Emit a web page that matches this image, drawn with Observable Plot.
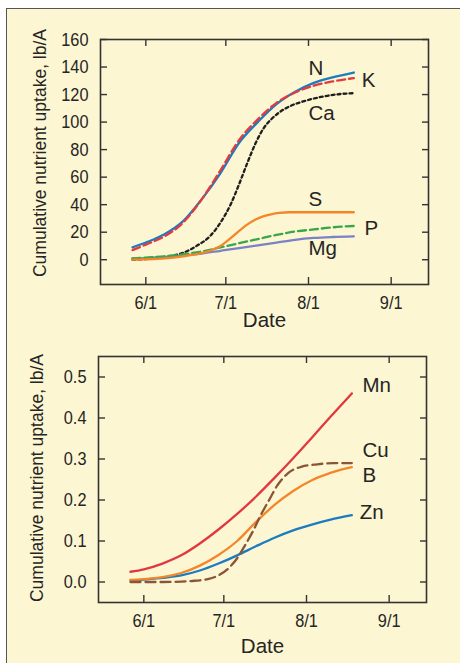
<!DOCTYPE html>
<html><head><meta charset="utf-8">
<script src="https://cdn.jsdelivr.net/npm/d3@7"></script>
<script src="https://cdn.jsdelivr.net/npm/@observablehq/plot@0.6"></script>
<style>
html,body{margin:0;padding:0;background:#fff;}
#page{position:relative;width:460px;height:663px;overflow:hidden;background:#fff;}
#panel{position:absolute;left:6px;top:8px;right:0;bottom:0;background:#fdf6d2;border-left:1.5px solid #555;border-top:1.5px solid #555;}
.chart{position:absolute;left:0;}
</style></head><body>
<div id="page"><div id="panel"></div><div id="c1" class="chart" style="top:0px"></div><div id="c2" class="chart" style="top:330px"></div></div>
<script>
// ---------- data ----------
const datesWeekly = ["05-27","06-01","06-08","06-15","06-22","06-29","07-06","07-13","07-20","07-27","08-03","08-10","08-18"];
const datesFine   = ["05-27","06-01","06-08","06-15","06-20","06-25","06-29","07-03","07-06","07-09","07-12","07-15","07-18","07-21","07-25","07-30","08-05","08-11","08-18"];

// Top chart (lb/A)
const N  = [9, 12.5, 18.5, 28, 44, 63, 85, 100, 113, 122, 128.5, 132.5, 136];
const K  = [7, 11, 17, 27, 44, 65, 87, 102, 114, 121.5, 126.5, 129.5, 132];
const Ca = [0, 0.5, 2, 5, 10, 17, 27, 41, 55, 70, 84, 95, 102, 107, 111.5, 115, 118, 120, 121];
const S  = [0, 0.3, 1, 2.5, 4, 6.5, 10, 16, 21, 25.5, 29, 31.5, 33, 34, 34.5, 34.5, 34.5, 34.5, 34.5];
const P  = [1, 1.5, 2.5, 4, 6, 9, 12, 15, 18, 20.5, 22, 23.5, 24.5];
const Mg = [1, 1.2, 2, 3, 4.5, 6.5, 8.5, 10.5, 12.5, 14.5, 15.8, 16.5, 17];

// Bottom chart (lb/A)
const Mn = [0.025, 0.031, 0.045, 0.065, 0.094, 0.128, 0.166, 0.208, 0.254, 0.302, 0.352, 0.403, 0.46];
const Cu = [0, 0, 0, 0.001, 0.003, 0.007, 0.016, 0.035, 0.058, 0.09, 0.125, 0.165, 0.2, 0.235, 0.265, 0.281, 0.287, 0.29, 0.29];
const B  = [0.005, 0.007, 0.012, 0.022, 0.04, 0.066, 0.1, 0.146, 0.188, 0.222, 0.248, 0.266, 0.28];
const Zn = [0.004, 0.006, 0.01, 0.016, 0.028, 0.045, 0.065, 0.087, 0.108, 0.126, 0.14, 0.152, 0.163];

// Labels
const topLabelNames  = ["N", "K", "Ca", "S", "P", "Mg"];
const topLabelDates  = ["08-01", "08-21", "08-01", "08-01", "08-22", "08-01"];
const topLabelValues = [139, 130, 106, 44, 23, 8];
const botLabelNames  = ["Mn", "Cu", "B", "Zn"];
const botLabelDates  = ["08-22", "08-22", "08-22", "08-21"];
const botLabelValues = [0.48, 0.32, 0.26, 0.17];

// Axes
const xDomain = ["05-15", "09-15"];
const xTickDates = ["06-01", "07-01", "08-01", "09-01"];
const xTickLabels = ["6/1", "7/1", "8/1", "9/1"];
const topYTicks = [0, 20, 40, 60, 80, 100, 120, 140, 160];
const topYDomain = [-18, 160];
const botYTicks = [0, 0.1, 0.2, 0.3, 0.4, 0.5];
const botYDomain = [-0.05, 0.55];
const yTitle = "Cumulative nutrient uptake, lb/A";
const xTitle = "Date";

// ---------- helpers ----------
const parse = s => new Date(`2000-${s}T00:00:00Z`);
const FONT = "'Liberation Sans', Arial, sans-serif";
const INK = "#252525";
const rows = (dates, vals) => dates.map((d, i) => ({date: parse(d), v: vals[i]}));
const xTicks = xTickDates.map(parse);
const tickFmt = d => xTickLabels[xTicks.findIndex(t => +t === +d)];

// horizontally condense glyphs of a text element around its own anchor
function condense(t, s) {
  const tr = t.getAttribute("transform");
  if (tr) { t.setAttribute("transform", `${tr} scale(${s},1)`); return; }
  const x = +(t.getAttribute("x") || 0), y = +(t.getAttribute("y") || 0);
  t.removeAttribute("x"); t.removeAttribute("y");
  t.setAttribute("transform", `translate(${x},${y}) scale(${s},1)`);
}

function chart({series, yDomain, yTicks, yFmt, labels, height, mt, mb, ml, mr, yTitleDx, yTitleDy, xTitleDy}) {
  const marks = [];
  for (const s of series) {
    marks.push(Plot.line(s.data, {x: "date", y: "v", stroke: s.color, strokeWidth: 2.3,
      strokeDasharray: s.dash || null, curve: "monotone-x"}));
  }
  marks.push(
    Plot.frame({stroke: "#333", strokeWidth: 1.6}),
    Plot.axisX(xTicks, {anchor: "bottom", tickSize: -7, tickFormat: () => "", label: null, stroke: "#333", strokeWidth: 1.4}),
    Plot.axisX(xTicks, {anchor: "top", tickSize: -6, tickFormat: () => "", label: null, stroke: "#333", strokeWidth: 1.4}),
    Plot.axisY(yTicks, {anchor: "left", tickSize: -7, tickFormat: () => "", label: null, stroke: "#333", strokeWidth: 1.4}),
    Plot.axisY(yTicks, {anchor: "right", tickSize: -7, tickFormat: () => "", label: null, stroke: "#333", strokeWidth: 1.4}),
    Plot.axisX(xTicks, {anchor: "bottom", tickSize: 0, tickPadding: 10.5, tickFormat: tickFmt, label: null, fontSize: 19, fill: INK}),
    Plot.axisY(yTicks, {anchor: "left", tickSize: 0, tickPadding: 12, tickFormat: yFmt, label: null, fontSize: 19, fill: INK}),
    Plot.text([yTitle], {frameAnchor: "left", rotate: -90, dx: yTitleDx, dy: yTitleDy, textAnchor: "middle", lineAnchor: "middle", fontSize: 17.5, fill: INK, text: d => d}),
    Plot.text([xTitle], {frameAnchor: "bottom", dy: xTitleDy, textAnchor: "middle", lineAnchor: "middle", fontSize: 20.5, fill: INK, text: d => d, ariaLabel: "xtitle"}),
    Plot.text(labels, {x: "date", y: "v", text: "name", textAnchor: "start", fontSize: 20.5, fill: INK, ariaLabel: "series label"})
  );
  const svg = Plot.plot({
    width: 460, height, marginTop: mt, marginBottom: mb, marginLeft: ml, marginRight: mr,
    x: {type: "utc", domain: xDomain.map(parse)},
    y: {domain: yDomain},
    style: {background: "transparent", fontFamily: FONT, color: INK, overflow: "visible"},
    marks
  });
  svg.querySelectorAll('g[aria-label="x-axis tick label"] text, g[aria-label="y-axis tick label"] text').forEach(t => condense(t, 0.86));
  svg.querySelectorAll('g[aria-label="series label"] text').forEach(t => condense(t, 0.87));
  svg.querySelectorAll('g[aria-label="xtitle"] text').forEach(t => condense(t, 0.88));
  return svg;
}

const topSeries = [
  {data: rows(datesFine, Ca), color: "#1f1f1f", dash: "3,3"},
  {data: rows(datesWeekly, Mg), color: "#7a82c6"},
  {data: rows(datesWeekly, P), color: "#3aa64b", dash: "8,4"},
  {data: rows(datesFine, S), color: "#f4862a"},
  {data: rows(datesWeekly, N), color: "#1b7cc1"},
  {data: rows(datesWeekly, K), color: "#e23b3f", dash: "8,4"}
];
const botSeries = [
  {data: rows(datesWeekly, Zn), color: "#1b7cc1"},
  {data: rows(datesWeekly, B), color: "#f4862a"},
  {data: rows(datesFine, Cu), color: "#8a5536", dash: "10,5"},
  {data: rows(datesWeekly, Mn), color: "#e0383e"}
];
const topLabels = topLabelNames.map((n, i) => ({name: n, date: parse(topLabelDates[i]), v: topLabelValues[i]}));
const botLabels = botLabelNames.map((n, i) => ({name: n, date: parse(botLabelDates[i]), v: botLabelValues[i]}));

document.getElementById("c1").append(chart({
  series: topSeries, yDomain: topYDomain, yTicks: topYTicks, yFmt: d3.format("d"),
  labels: topLabels, height: 330, mt: 39, mb: 46, ml: 100, mr: 32, yTitleDx: -60, yTitleDy: -9, xTitleDy: 36
}));
document.getElementById("c2").append(chart({
  series: botSeries, yDomain: botYDomain, yTicks: botYTicks, yFmt: d3.format(".1f"),
  labels: botLabels, height: 333, mt: 26, mb: 61, ml: 98, mr: 34, yTitleDx: -61, yTitleDy: -1.5, xTitleDy: 44
}));
</script>
</body></html>
